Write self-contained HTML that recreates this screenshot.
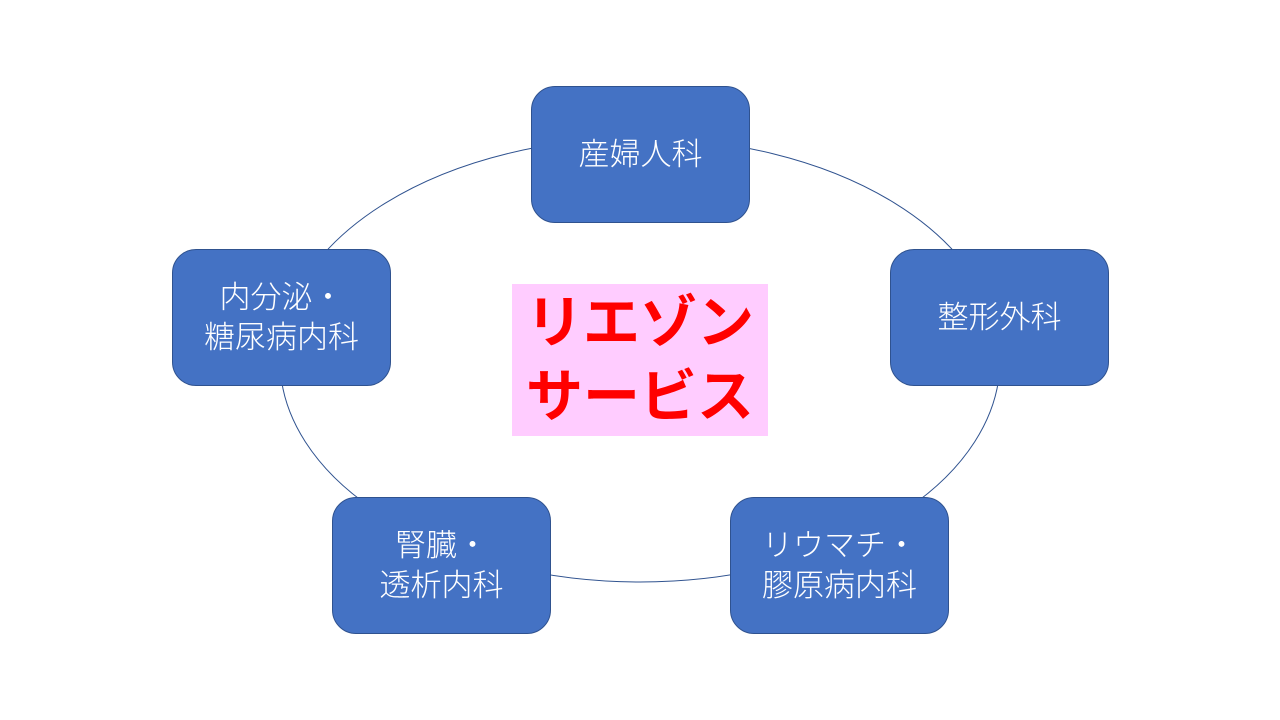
<!DOCTYPE html>
<html><head><meta charset="utf-8"><style>
body{margin:0;width:1280px;height:720px;background:#fff;position:relative;overflow:hidden;font-family:"Liberation Sans","Noto Sans CJK JP",sans-serif}
.b{position:absolute;width:217px;height:135px;background:#4472C4;border:1px solid #2F528F;border-radius:24px;color:#fff;font-size:31px;font-weight:300;display:flex;align-items:center;justify-content:center;text-align:center;line-height:40px}
.c{position:absolute;left:512px;top:284px;width:256px;height:152px;background:#FFCCFF;color:#FF0000;font-weight:bold;font-size:57px;line-height:74px;text-align:center;display:flex;align-items:center;justify-content:center}
</style></head><body>
<svg width="1280" height="720" style="position:absolute;left:0;top:0"><ellipse cx="640" cy="360" rx="360" ry="222" fill="none" stroke="#2F528F" stroke-width="1"/></svg>
<div class="b" style="left:531px;top:86px">産婦人科</div>
<div class="b" style="left:890px;top:249px">整形外科</div>
<div class="b" style="left:172px;top:249px">内分泌・<br>糖尿病内科</div>
<div class="b" style="left:332px;top:497px">腎臓・<br>透析内科</div>
<div class="b" style="left:730px;top:497px">リウマチ・<br>膠原病内科</div>
<div class="c">リエゾン<br>サービス</div>
</body></html>
